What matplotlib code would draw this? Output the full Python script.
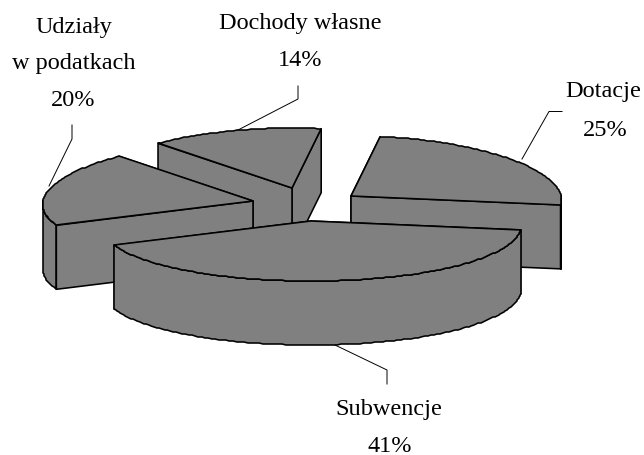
import numpy as np
import matplotlib
matplotlib.use("Agg")
import matplotlib.pyplot as plt

# udzialy w procentach, przeciwnie do ruchu wskazowek od Dotacji
names = ["Dotacje", "Dochody własne", "Udziały\nw podatkach", "Subwencje"]
shares = [25, 14, 20, 41]

START = -8.5  # kat poczatkowy
RX, RY = 210, 60  # polosie elipsy
PERSP = 0.06  # tyl wycinka wezszy niz przod
DEPTH = 64
GRAY = "#808080"

# wierzcholki wycinkow po rozsunieciu (piksele obrazka)
apex_x = [351, 292, 253, 311]
apex_y = [197, 189, 202, 222]

label_x = [603, 300, 74, 389]
label_y = [92, 23, 27, 410]
pct_x = [605, 300, 73, 390]
pct_y = [131, 61, 101, 447]

leaders = [
    [(562, 112.5), (549, 112.5), (522, 160)],
    [(298, 87), (298, 100), (238, 131)],
    [(72, 126), (72, 140), (49, 187)],
    [(335, 346), (387, 371), (387, 385)],
]


def point(cx, cy, t):
    t = np.radians(t)
    return cx + RX * np.cos(t) * (1 - PERSP * np.sin(t)), cy - RY * np.sin(t)


def arc(cx, cy, t1, t2):
    t = np.linspace(t1, t2, max(int(abs(t2 - t1)), 2))
    x, y = point(cx, cy, t)
    # zaokraglenie do pikseli daje schodkowy luk jak w oryginale
    return np.round(x), np.round(y)


def face(ax, xs, ys):
    ax.fill(xs, ys, facecolor=GRAY, edgecolor="black", linewidth=1.15, joinstyle="round")


def draw_slice(ax, cx, cy, t1, t2):
    ends = sorted([t1, t2], key=lambda a: -np.sin(np.radians(a)))
    # sciany promieniowe, najpierw tylna
    for a in ends:
        ex, ey = point(cx, cy, a)
        face(ax, [cx, ex, ex, cx], [cy, ey, ey + DEPTH, cy + DEPTH])
    # widoczna czesc sciany zewnetrznej
    lo, hi = max(t1, 180), min(t2, 360)
    if t1 < 0:
        lo, hi = t1, min(t2, 0)
    if lo < hi:
        bx, by = arc(cx, cy, lo, hi)
        face(ax, np.r_[bx, bx[::-1]], np.r_[by, by[::-1] + DEPTH])
    # wierzch
    tx, ty = arc(cx, cy, t1, t2)
    face(ax, np.r_[cx, tx], np.r_[cy, ty])


fig = plt.figure(figsize=(6.44, 4.56), dpi=100)
ax = fig.add_axes([0, 0, 1, 1])
ax.set_xlim(0, 644)
ax.set_ylim(456, 0)
ax.axis("off")

angles = START + np.cumsum([0] + shares) * 3.6
for i in np.argsort(apex_y):
    draw_slice(ax, apex_x[i], apex_y[i], angles[i], angles[i + 1])

for pts in leaders:
    ax.plot(*zip(*pts), color="black", linewidth=0.7)

font = dict(family="Liberation Serif", fontsize=17.5, ha="center", va="center", color="black")
for i, name in enumerate(names):
    if "\n" in name:
        first, second = name.split("\n")
        ax.text(label_x[i], label_y[i], first, **font)
        ax.text(label_x[i], 63, second, **font)
    else:
        ax.text(label_x[i], label_y[i], name, **font)
    ax.text(pct_x[i], pct_y[i], f"{shares[i]}%", **font)

fig.savefig("out.png", dpi=100)
